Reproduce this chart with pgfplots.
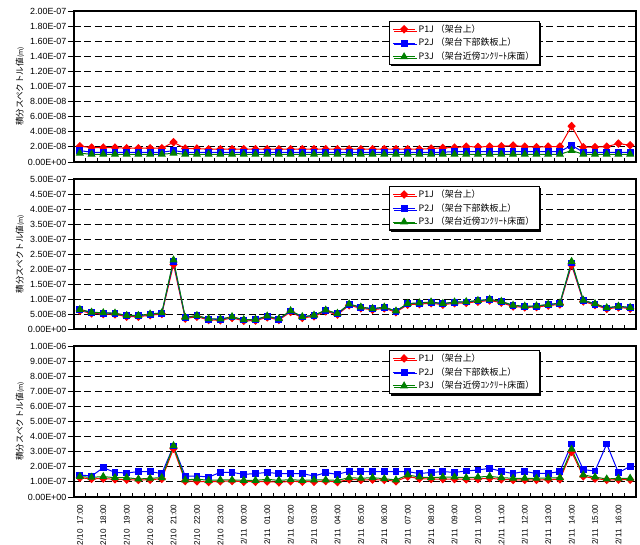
\documentclass[border=0pt]{standalone}
\usepackage{fontspec}
\usepackage{pgfplots}
\usepackage{pgfplotstable}
\pgfplotsset{compat=1.18}
\usetikzlibrary{shadows}
\setmainfont{Liberation Sans}
\newfontfamily\cjk{Noto Sans CJK JP}

% values in units of 1E-08 m
\pgfplotstableread{
x p1 p2 p3
0 2.09 1.51 1.16
1 1.91 1.29 1.02
2 1.91 1.29 1.02
3 1.91 1.29 1.02
4 1.82 1.29 1.02
5 1.82 1.29 1.02
6 1.82 1.29 1.02
7 1.82 1.29 1.02
8 2.62 1.51 1.16
9 1.78 1.29 1.02
10 1.78 1.29 1.02
11 1.69 1.29 1.02
12 1.69 1.29 1.02
13 1.69 1.29 1.02
14 1.69 1.29 1.02
15 1.69 1.29 1.02
16 1.69 1.29 1.02
17 1.69 1.29 1.02
18 1.69 1.29 1.02
19 1.69 1.29 1.02
20 1.69 1.29 1.02
21 1.69 1.29 1.02
22 1.69 1.29 1.02
23 1.69 1.29 1.02
24 1.69 1.29 1.02
25 1.69 1.29 1.02
26 1.69 1.29 1.02
27 1.69 1.29 1.02
28 1.69 1.29 1.02
29 1.69 1.29 1.02
30 1.78 1.29 1.02
31 1.87 1.29 1.02
32 1.91 1.38 1.02
33 2.04 1.38 1.02
34 2.00 1.38 1.02
35 2.04 1.38 1.02
36 2.09 1.38 1.02
37 2.18 1.38 1.02
38 2.04 1.38 1.02
39 1.96 1.38 1.02
40 2.04 1.38 1.02
41 2.04 1.38 1.02
42 4.75 2.22 1.51
43 1.96 1.29 1.02
44 1.96 1.29 1.02
45 2.04 1.29 1.02
46 2.44 1.29 1.02
47 2.22 1.29 1.02
}\dataA

\pgfplotstableread{
x p1 p2 p3
0 6.1 6.4 6.5
1 5.2 5.5 5.6
2 5.0 5.3 5.4
3 4.9 5.2 5.3
4 4.1 4.4 4.5
5 4.1 4.4 4.5
6 4.6 4.9 5.0
7 5.0 5.3 5.4
8 21.5 22.5 23.0
9 3.5 3.8 3.9
10 4.1 4.4 4.5
11 3.0 3.3 3.4
12 2.9 3.2 3.3
13 3.7 4.0 4.1
14 2.7 3.0 3.1
15 2.8 3.1 3.2
16 3.9 4.2 4.3
17 3.0 3.3 3.4
18 5.7 6.0 6.1
19 3.7 4.0 4.1
20 4.2 4.5 4.6
21 5.9 6.2 6.3
22 4.8 5.1 5.2
23 7.9 8.2 8.3
24 6.9 7.2 7.3
25 6.4 6.7 6.8
26 6.9 7.2 7.3
27 5.6 5.9 6.0
28 8.1 8.4 8.5
29 8.3 8.6 8.7
30 8.6 8.9 9.0
31 8.1 8.4 8.5
32 8.6 8.9 9.0
33 8.7 9.0 9.1
34 9.1 9.4 9.5
35 9.5 9.8 9.9
36 8.8 9.1 9.2
37 7.5 7.8 7.9
38 7.2 7.5 7.6
39 7.3 7.6 7.7
40 7.8 8.1 8.2
41 8.2 8.5 8.6
42 21.3 22.0 22.5
43 9.2 9.5 9.6
44 8.0 8.3 8.4
45 6.7 7.0 7.1
46 7.2 7.5 7.6
47 6.8 7.1 7.2
}\dataB

\pgfplotstableread{
x p1 p2 p3
0 12.7 14.6 13.5
1 12.0 13.9 13.0
2 12.2 19.4 13.5
3 11.7 16.3 12.8
4 11.5 15.9 12.8
5 11.3 16.8 11.9
6 11.5 16.8 12.4
7 12.0 15.5 12.8
8 32.0 33.8 34.0
9 10.6 13.9 11.3
10 10.4 13.9 11.9
11 9.9 13.2 11.0
12 10.4 16.3 11.3
13 10.6 16.3 11.3
14 10.1 15.0 11.0
15 10.1 15.5 11.0
16 10.3 16.3 11.7
17 9.7 15.5 11.0
18 10.4 15.5 11.5
19 10.1 15.5 11.0
20 10.1 13.9 11.3
21 10.6 16.1 11.3
22 9.9 15.0 11.0
23 11.7 17.0 12.8
24 11.3 16.8 12.4
25 11.5 16.8 12.8
26 11.3 16.8 12.1
27 10.4 16.8 11.3
28 13.5 16.8 14.6
29 12.2 15.5 13.2
30 11.9 16.3 12.8
31 11.9 16.8 13.2
32 11.9 16.3 13.2
33 11.7 17.2 12.8
34 11.9 17.9 13.2
35 12.4 19.0 13.7
36 11.7 17.0 12.8
37 11.3 15.5 12.4
38 11.3 17.0 12.4
39 11.3 15.5 12.4
40 11.5 15.7 12.6
41 11.7 16.8 12.8
42 29.8 35.1 31.6
43 13.7 18.1 14.6
44 12.2 17.2 13.2
45 11.3 35.1 11.9
46 11.5 16.1 12.4
47 11.5 20.3 12.4
}\dataC

\definecolor{xlgreen}{RGB}{0,128,0}

\pgfplotsset{
  panel/.style={
    scale only axis, width=421.5pt,
    xmin=-0.5, xmax=47.5, ymin=0,
    xtick={0,2,...,46},
    minor xtick={-0.5,0.5,...,47.5},
    major x tick style={draw=none},
    minor x tick style={black, line width=0.7pt},
    minor tick length=3pt,
    xtick align=inside,
    ytick align=outside,
    major tick length=4.5pt,
    ytick style={black, line width=0.7pt},
    tick pos=left,
    ymajorgrids,
    major grid style={black, line width=0.7pt, dash pattern=on 5.3pt off 2.4pt},
    axis line style={black, line width=0.9pt},
    yticklabel style={font=\fontsize{6.7}{7}\selectfont, inner sep=1pt},
    ylabel={\cjk 積分スペクトル値{\fontsize{5}{5}\selectfont(m)}},
    ylabel style={at={(axis description cs:-0.0961,0.5)}, anchor=center, font=\cjk\fontsize{6.4}{7}\selectfont},
    legend style={anchor=north west, draw=black, line width=0.9pt, fill=white,
      inner xsep=2pt, inner ysep=0.3pt, row sep=-0.9pt,
      font=\cjk\fontsize{6.7}{7.8}\selectfont, cells={anchor=west},
      drop shadow={shadow xshift=1.3pt, shadow yshift=-1.3pt, fill=black, opacity=1}},
    legend image code/.code={\draw[mark repeat=2,mark phase=2] plot coordinates {(0pt,0pt)(8.5pt,0pt)(17pt,0pt)};},
    s1/.style={red, line width=0.75pt, mark=diamond*, mark size=2.7pt, mark options={solid, xscale=1.3}},
    s2/.style={blue, line width=0.75pt, mark=square*, mark size=2.2pt, mark options={solid}},
    s3/.style={xlgreen, line width=0.75pt, mark=triangle*, mark size=2.8pt, mark options={solid}},
  }
}

\begin{document}
\begin{tikzpicture}
\begin{axis}[panel, at={(55.5pt,287.25pt)}, anchor=south west, height=113.25pt,
  ymax=20, ytick={0,2,...,20},
  yticklabels={0.00E+00,2.00E-08,4.00E-08,6.00E-08,8.00E-08,1.00E-07,1.20E-07,1.40E-07,1.60E-07,1.80E-07,2.00E-07},
  xticklabels={},
  legend style={at={(axis description cs:0.5605,0.935)}}]
\addplot[s1] table[x=x,y=p1] {\dataA};
\addplot[s2] table[x=x,y=p2] {\dataA};
\addplot[s3] table[x=x,y=p3] {\dataA};
\legend{P1J （架台上）,P2J （架台下部鉄板上）,P3J （架台近傍ｺﾝｸﾘｰﾄ床面）}
\end{axis}

\begin{axis}[panel, at={(55.5pt,162pt)}, anchor=south west, height=112.5pt,
  ymax=50, ytick={0,5,...,50},
  yticklabels={0.00E+00,5.00E-08,1.00E-07,1.50E-07,2.00E-07,2.50E-07,3.00E-07,3.50E-07,4.00E-07,4.50E-07,5.00E-07},
  xticklabels={},
  legend style={at={(axis description cs:0.5605,0.953)}}]
\addplot[s1] table[x=x,y=p1] {\dataB};
\addplot[s2] table[x=x,y=p2] {\dataB};
\addplot[s3] table[x=x,y=p3] {\dataB};
\legend{P1J （架台上）,P2J （架台下部鉄板上）,P3J （架台近傍ｺﾝｸﾘｰﾄ床面）}
\end{axis}

\begin{axis}[panel, at={(55.5pt,36pt)}, anchor=south west, height=113.25pt,
  ymax=100, ytick={0,10,...,100},
  yticklabels={0.00E+00,1.00E-07,2.00E-07,3.00E-07,4.00E-07,5.00E-07,6.00E-07,7.00E-07,8.00E-07,9.00E-07,1.00E-06},
  xticklabels={12/10\ \ 17:00,12/10\ \ 18:00,12/10\ \ 19:00,12/10\ \ 20:00,12/10\ \ 21:00,12/10\ \ 22:00,12/10\ \ 23:00,12/11\ \ 00:00,12/11\ \ 01:00,12/11\ \ 02:00,12/11\ \ 03:00,12/11\ \ 04:00,12/11\ \ 05:00,12/11\ \ 06:00,12/11\ \ 07:00,12/11\ \ 08:00,12/11\ \ 09:00,12/11\ \ 10:00,12/11\ \ 11:00,12/11\ \ 12:00,12/11\ \ 13:00,12/11\ \ 14:00,12/11\ \ 15:00,12/11\ \ 16:00},
  xticklabel style={rotate=90, anchor=east, font=\fontsize{6.1}{6.5}\selectfont, inner sep=0pt},
  xticklabel shift=5.5pt,
  legend style={at={(axis description cs:0.5605,0.974)}}]
\addplot[s1] table[x=x,y=p1] {\dataC};
\addplot[s2] table[x=x,y=p2] {\dataC};
\addplot[s3] table[x=x,y=p3] {\dataC};
\legend{P1J （架台上）,P2J （架台下部鉄板上）,P3J （架台近傍ｺﾝｸﾘｰﾄ床面）}
\end{axis}
\pgfresetboundingbox
\path[use as bounding box] (0,0) rectangle (480pt,408.75pt);
\end{tikzpicture}
\end{document}
